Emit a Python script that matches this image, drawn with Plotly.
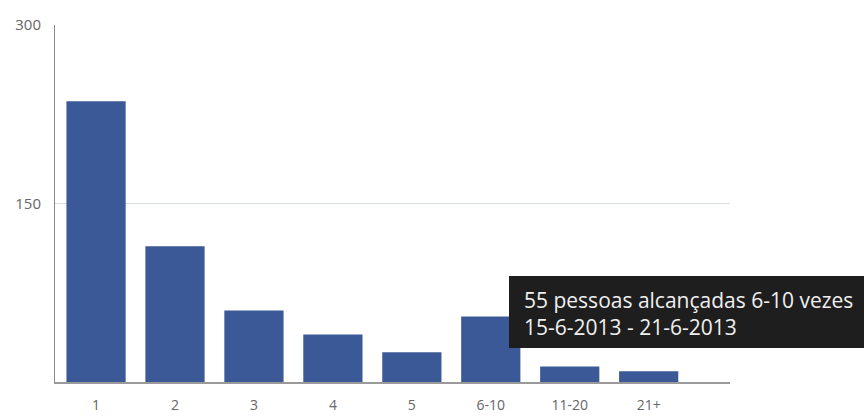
import plotly.graph_objects as go

# Reach frequency: number of people reached N times
categories = ["1", "2", "3", "4", "5", "6-10", "11-20", "21+"]
people = [236, 114, 60, 40, 25, 55, 13, 9]
y_ticks = [0, 150, 300]
y_tick_text = ["", "150", "300"]
period = "15-6-2013 - 21-6-2013"
highlight = 5  # bar described by the tooltip box

BAR = "#3b5897"
LEFT, RIGHT, TOP, BOTTOM = 55, 134, 25, 35
W, H = 864, 417
plot_w = W - LEFT - RIGHT
plot_h = H - TOP - BOTTOM

fig = go.Figure(
    go.Bar(
        x=list(range(len(categories))),
        y=people,
        marker=dict(color=BAR, line=dict(width=0)),
        hoverinfo="skip",
    )
)

def px_x(p):
    return (p - LEFT) / plot_w

def px_y(p):
    return (H - BOTTOM - p) / plot_h

# Dark tooltip box anchored next to the highlighted bar
fig.add_shape(
    type="rect", xref="paper", yref="paper",
    x0=px_x(509), x1=px_x(880), y0=px_y(348), y1=px_y(276),
    fillcolor="#1e1e1e", line=dict(width=0), layer="above",
)
fig.add_annotation(
    xref="paper", yref="paper", x=px_x(522), y=px_y(313),
    xanchor="left", yanchor="middle", showarrow=False, align="left",
    text=f"{people[highlight]} pessoas alcançadas {categories[highlight]} vezes<br>{period}",
    font=dict(family="Open Sans, Noto Sans, sans-serif", size=21, color="#f0f0f0"),
)

fig.update_layout(
    width=W, height=H,
    margin=dict(l=LEFT, r=RIGHT, t=TOP, b=BOTTOM, pad=0),
    paper_bgcolor="white", plot_bgcolor="white",
    bargap=0.25, showlegend=False,
    font=dict(family="Open Sans, Noto Sans, sans-serif", size=15, color="#6a6a6a"),
)
fig.update_xaxes(
    range=[-0.52, 8.03],
    tickmode="array", tickvals=list(range(len(categories))), ticktext=categories,
    showgrid=False, zeroline=False, ticks="", ticklabelstandoff=9,
    showline=True, linecolor="#9a9a9a", linewidth=2,
    tickfont=dict(size=14, color="#666666"),
    automargin=False, fixedrange=True,
)
fig.update_yaxes(
    range=[0, 300],
    tickmode="array", tickvals=y_ticks, ticktext=y_tick_text,
    showgrid=True, gridcolor="#d9dde6", gridwidth=1,
    zeroline=False, ticks="", ticklabelstandoff=10,
    showline=True, linecolor="#8a8a8a", linewidth=1,
    tickfont=dict(size=15, color="#666666"),
    automargin=False, fixedrange=True,
)

fig.write_html("out.html", config={"displayModeBar": False})
